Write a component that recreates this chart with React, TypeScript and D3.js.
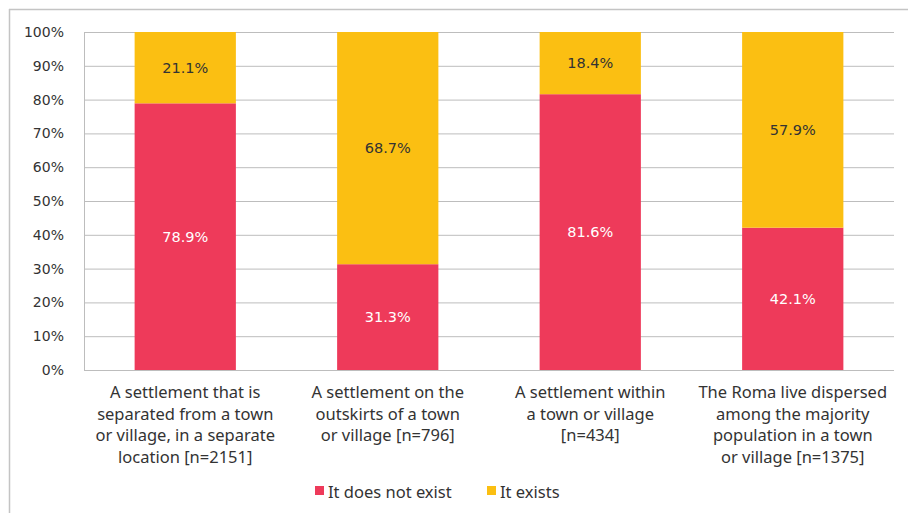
import React from "react";
import * as d3 from "d3";

const categories = [
  ["A settlement that is", "separated from a town", "or village, in a separate", "location [n=2151]"],
  ["A settlement on the", "outskirts of a town", "or village [n=796]"],
  ["A settlement within", "a town or village", "[n=434]"],
  ["The Roma live dispersed", "among the majority", "population in a town", "or village [n=1375]"],
];
const notExist = [78.9, 31.3, 81.6, 42.1];
const exists = [21.1, 68.7, 18.4, 57.9];
const seriesNames = ["It does not exist", "It exists"];
const colors = ["#EE3A5A", "#FBBF12"];
const ticks = [0, 10, 20, 30, 40, 50, 60, 70, 80, 90, 100];

export default function App() {
  const W = 908, H = 513;
  const x0 = 84, x1 = 894, yTop = 32, yBot = 370;
  const x = d3.scaleBand<number>().domain(d3.range(categories.length)).range([x0, x1]).paddingInner(0.5).paddingOuter(0.25);
  const y = d3.scaleLinear().domain([0, 100]).range([yBot, yTop]);
  const font = "'Noto Sans', 'Open Sans', sans-serif";
  const tickFont = "'DejaVu Sans', sans-serif";
  const rows = categories.map((c, i) => ({ i, a: notExist[i], b: exists[i] }));
  const stack = d3.stack<any>().keys(["a", "b"])(rows);
  return (
    <div style={{ position: "fixed", left: 0, top: 0 }}>
      <svg width={W} height={H} style={{ display: "block", fontFamily: font }}>
        <rect width={W} height={H} fill="#fff" />
        <line x1={9} x2={W} y1={9.5} y2={9.5} stroke="#c4c4c4" strokeWidth={1.5} />
        <line x1={9.5} x2={9.5} y1={9} y2={H} stroke="#c4c4c4" strokeWidth={1.5} />
        {ticks.map((t) => (
          <g key={t}>
            <line x1={x0} x2={x1} y1={y(t) + 0.5} y2={y(t) + 0.5} stroke="#bdbdbd" strokeWidth={1} />
            <text x={64} y={y(t) + 5} textAnchor="end" fontSize={14} fontFamily={tickFont} fill="#333">{t}%</text>
          </g>
        ))}
        <line x1={x0 + 0.5} x2={x0 + 0.5} y1={yTop} y2={yBot} stroke="#bdbdbd" strokeWidth={1} />
        {stack.map((s, si) =>
          s.map((d, i) => {
            const bx = x(i)!;
            const top = y(d[1]);
            const bot = y(d[0]);
            const v = si === 0 ? notExist[i] : exists[i];
            return (
              <g key={`${si}-${i}`}>
                <rect x={bx} y={top} width={x.bandwidth()} height={bot - top} fill={colors[si]} />
                <text x={bx + x.bandwidth() / 2} y={(top + bot) / 2 + 5} textAnchor="middle" fontSize={14.5}
                  fontFamily={tickFont} fill={si === 0 ? "#fff" : "#333"}>{v.toFixed(1)}%</text>
              </g>
            );
          })
        )}
        {categories.map((lines, i) => (
          <text key={i} textAnchor="middle" fontSize={16.5} fill="#333">
            {lines.map((l, j) => (
              <tspan key={j} x={x(i)! + x.bandwidth() / 2} y={398 + j * 21.5}>{l}</tspan>
            ))}
          </text>
        ))}
        {seriesNames.map((n, i) => {
          const lx = [315, 487][i];
          return (
            <g key={n}>
              <rect x={lx} y={486} width={9} height={9} fill={colors[i]} />
              <text x={lx + 13} y={498} fontSize={16.5} fill="#333">{n}</text>
            </g>
          );
        })}
      </svg>
    </div>
  );
}
